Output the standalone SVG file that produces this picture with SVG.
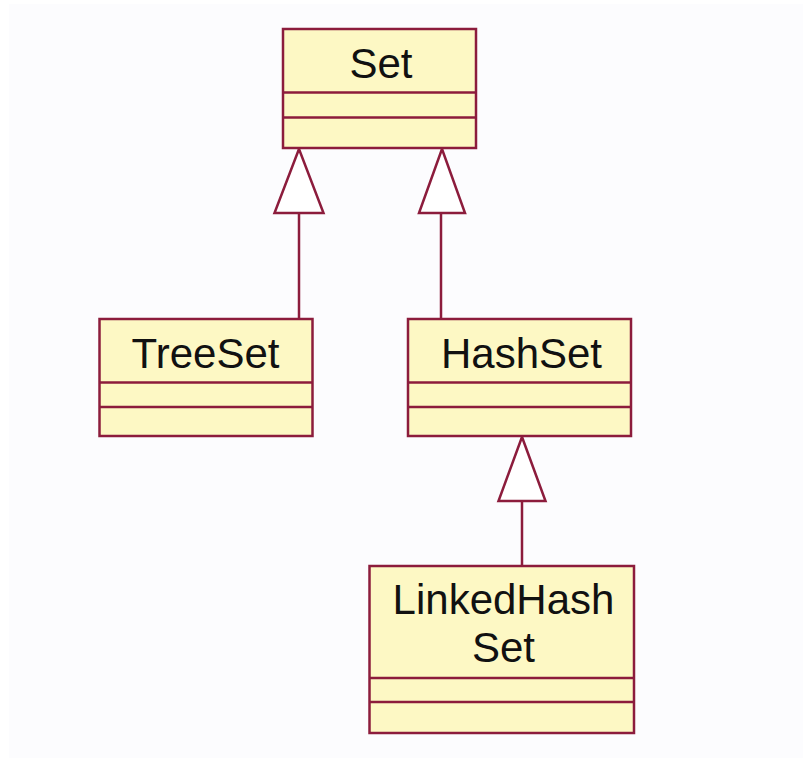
<svg xmlns="http://www.w3.org/2000/svg" width="803" height="758" viewBox="0 0 803 758">
<style>
.box{fill:#fdf8c4;stroke:#8c1c3c;stroke-width:2.5}
.div{stroke:#8c1c3c;stroke-width:2.5;fill:none}
.edge{stroke:#8c1c3c;stroke-width:2.5;fill:none}
.tri{fill:#ffffff;stroke:#8c1c3c;stroke-width:2.5;stroke-linejoin:miter}
text{font-family:"Liberation Sans",Arial,sans-serif;font-size:42px;fill:#111111;text-anchor:middle}
</style>
<rect x="0" y="0" width="803" height="758" fill="#ffffff"/>
<rect x="9" y="4" width="794" height="754" fill="#fcfcfe"/>
<g id="connectors">
<line class="edge" x1="299" y1="213" x2="299" y2="319"/>
<polygon class="tri" points="299,149 274.5,213 323.5,213"/>
<line class="edge" x1="441" y1="213" x2="441" y2="319"/>
<polygon class="tri" points="442,149 419,213 465,213"/>
<line class="edge" x1="522" y1="501" x2="522" y2="566"/>
<polygon class="tri" points="522,437 498.5,501 545.5,501"/>
</g>
<g id="Set">
<rect class="box" x="283" y="29" width="193" height="119"/>
<line class="div" x1="283" y1="92.5" x2="476" y2="92.5"/>
<line class="div" x1="283" y1="117.5" x2="476" y2="117.5"/>
<text x="381" y="78">Set</text>
</g>
<g id="TreeSet">
<rect class="box" x="99.5" y="319" width="213" height="117"/>
<line class="div" x1="99.5" y1="382.5" x2="312.5" y2="382.5"/>
<line class="div" x1="99.5" y1="407" x2="312.5" y2="407"/>
<text x="205.5" y="368">TreeSet</text>
</g>
<g id="HashSet">
<rect class="box" x="408" y="319" width="223" height="117"/>
<line class="div" x1="408" y1="382.5" x2="631" y2="382.5"/>
<line class="div" x1="408" y1="407" x2="631" y2="407"/>
<text x="521.5" y="368">HashSet</text>
</g>
<g id="LinkedHashSet">
<rect class="box" x="369.5" y="566" width="264.5" height="167"/>
<line class="div" x1="369.5" y1="678" x2="634" y2="678"/>
<line class="div" x1="369.5" y1="702" x2="634" y2="702"/>
<text x="503.5" y="614">LinkedHash</text>
<text x="503.5" y="662">Set</text>
</g>
</svg>
